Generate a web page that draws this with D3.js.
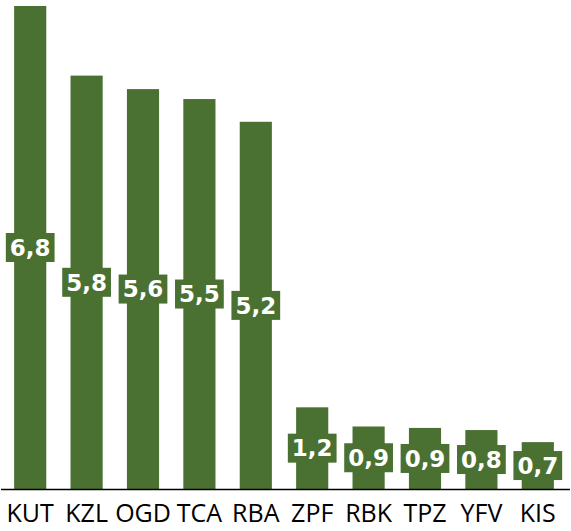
<!DOCTYPE html>
<html><head><meta charset="utf-8">
<script src="https://cdn.jsdelivr.net/npm/d3@7"></script>
<style>html,body{margin:0;padding:0;background:#fff;}svg{display:block;}</style>
</head><body>
<svg id="chart" width="571" height="531"></svg>
<script>
const categories = ["KUT","KZL","OGD","TCA","RBA","ZPF","RBK","TPZ","YFV","KIS"];
const values = [6.8, 5.82, 5.63, 5.49, 5.17, 1.15, 0.88, 0.86, 0.83, 0.66];
const labels = ["6,8","5,8","5,6","5,5","5,2","1,2","0,9","0,9","0,8","0,7"];

const W = 571, H = 531;
const baseY = 489, topY = 6;
const green = "#4a7131";
const svg = d3.select("#chart");

const x = d3.scaleBand().domain(categories).range([2, 566]).paddingInner(0.43).paddingOuter(0.215);
const y = d3.scaleLinear().domain([0, 6.8]).range([baseY, topY]);

svg.selectAll("rect.bar").data(values).enter().append("rect")
  .attr("class","bar")
  .attr("x",(d,i)=>x(categories[i]))
  .attr("width",x.bandwidth())
  .attr("y",d=>y(d))
  .attr("height",d=>baseY-y(d))
  .attr("fill",green);

// axis line
svg.append("line").attr("x1",1).attr("x2",570).attr("y1",baseY+0.5).attr("y2",baseY+0.5)
  .attr("stroke","#000").attr("stroke-width",1.5);

const xAxis = d3.axisBottom(x).tickSize(0);
const gx = svg.append("g").attr("transform",`translate(0,${baseY})`).call(xAxis);
gx.select(".domain").remove();
gx.selectAll("text").attr("y",32.5).attr("dy",0)
  .attr("font-family","'Open Sans', sans-serif").attr("font-size",25).attr("fill","#000");

// value labels
const lg = svg.selectAll("g.lab").data(values).enter().append("g").attr("class","lab")
  .attr("transform",(d,i)=>`translate(${x(categories[i])+x.bandwidth()/2},${(y(d)+baseY)/2})`);
lg.append("text").text((d,i)=>labels[i])
  .attr("text-anchor","middle").attr("dy","0.36em")
  .attr("font-family","'DejaVu Sans', sans-serif").attr("font-weight","bold").attr("font-size",23)
  .attr("fill","#fff");
lg.each(function(){
  const g = d3.select(this);
  const bb = g.select("text").node().getBBox();
  g.insert("rect","text").attr("x",bb.x-4).attr("y",-14.5).attr("width",bb.width+8).attr("height",29).attr("fill",green);
});
</script>
</body></html>
